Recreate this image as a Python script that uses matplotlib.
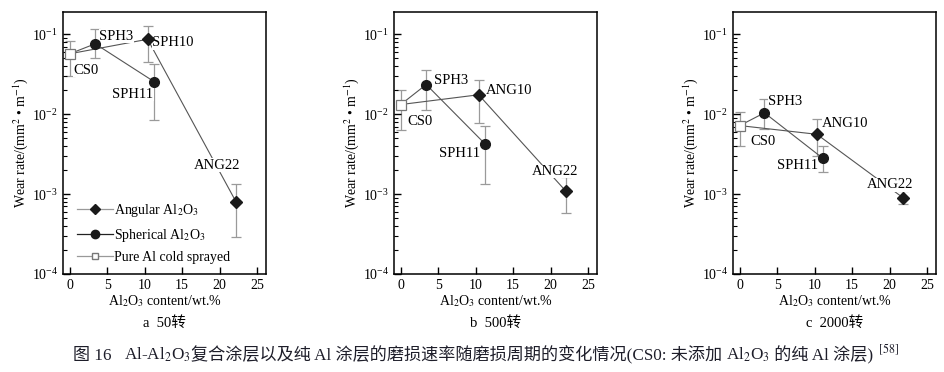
import matplotlib
matplotlib.use("Agg")
import matplotlib.pyplot as plt
from matplotlib.lines import Line2D
from matplotlib.ticker import LogLocator

plt.rcParams["font.family"] = ["Liberation Serif", "Noto Sans CJK SC"]
plt.rcParams["mathtext.fontset"] = "stix"
plt.rcParams["font.size"] = 9

# --------------------------------------------------------------------------- #
# Data (wear rate, mm^2/m)
# --------------------------------------------------------------------------- #
panels = ["a  50转", "b  500转", "c  2000转"]

cs0_y = [0.057, 0.0132, 0.0072]
cs0_lo = [0.030, 0.0063, 0.0040]
cs0_hi = [0.083, 0.0198, 0.0105]

sph_x = [[3.4, 11.3], [3.4, 11.3], [3.3, 11.1]]
sph_y = [[0.076, 0.0254], [0.0235, 0.0042], [0.0104, 0.0028]]
sph_lo = [[0.050, 0.0084], [0.0112, 0.00134], [0.0065, 0.00187]]
sph_hi = [[0.118, 0.042], [0.036, 0.0071], [0.0153, 0.0040]]

ang_x = [[10.4, 22.2], [10.4, 22.0], [10.3, 21.8]]
ang_y = [[0.0866, 0.0008], [0.0175, 0.0011], [0.0056, 0.0009]]
ang_lo = [[0.045, 0.00029], [0.0078, 0.00058], [0.0030, 0.00076]]
ang_hi = [[0.127, 0.00133], [0.027, 0.00162], [0.0088, 0.0011]]

sph_names = [["SPH3", "SPH11"], ["SPH3", "SPH11"], ["SPH3", "SPH11"]]
ang_names = [["SPH10", "ANG22"], ["ANG10", "ANG22"], ["ANG10", "ANG22"]]

# label anchors (x, y, ha) for CS0, sph pts, ang pts
label_pos = [
    [(0.5, 0.0355, "left"), (3.9, 0.095, "left"), (8.4, 0.0178, "center"),
     (11.0, 0.078, "left"), (19.6, 0.0023, "center")],
    [(0.9, 0.0080, "left"), (4.4, 0.0264, "left"), (7.8, 0.0032, "center"),
     (11.4, 0.0198, "left"), (20.6, 0.00192, "center")],
    [(1.4, 0.0045, "left"), (3.8, 0.0144, "left"), (7.7, 0.00226, "center"),
     (11.0, 0.0077, "left"), (20.0, 0.0013, "center")],
]

caption_parts = [
    "图 16   ",
    "Al-Al$_2$O$_3$",
    "复合涂层以及纯 Al 涂层的磨损速率随磨损周期的变化情况(CS0: 未添加 ",
    "Al$_2$O$_3$",
    " 的纯 Al 涂层)",
    " $^{[58]}$",
]

# --------------------------------------------------------------------------- #
# Figure
# --------------------------------------------------------------------------- #
fig = plt.figure(figsize=(9.44, 3.72), dpi=100)
lefts = [63, 394, 733]
line_c = "#555555"
err_c = "#9a9a9a"

for i, left in enumerate(lefts):
    ax = fig.add_axes([left / 944, 1 - 274 / 372, 203 / 944, 262 / 372])
    ax.set_yscale("log")
    ax.set_ylim(1e-4, 0.19)
    ax.set_xlim(-0.9, 26.2)
    ax.set_xticks([0, 5, 10, 15, 20, 25])
    ax.yaxis.set_major_locator(LogLocator(base=10, numticks=10))
    ax.yaxis.set_minor_locator(LogLocator(base=10, subs=range(2, 10), numticks=20))
    ax.tick_params(which="both", direction="in", top=False, right=False,
                   labelsize=10)
    ax.tick_params(which="major", length=5, width=1)
    ax.tick_params(which="minor", length=3, width=0.8)
    for s in ax.spines.values():
        s.set_linewidth(1.1)

    # connecting lines (both series start at CS0)
    ax.plot([0] + sph_x[i], [cs0_y[i]] + sph_y[i], color=line_c, lw=0.8, zorder=2)
    ax.plot([0] + ang_x[i], [cs0_y[i]] + ang_y[i], color=line_c, lw=0.8, zorder=2)

    # error bars
    def ebar(xs, ys, lo, hi):
        yerr = [[y - l for y, l in zip(ys, lo)], [h - y for y, h in zip(ys, hi)]]
        ax.errorbar(xs, ys, yerr=yerr, fmt="none", ecolor=err_c, elinewidth=0.9,
                    capsize=3.5, capthick=0.9, zorder=1)

    ebar([0], [cs0_y[i]], [cs0_lo[i]], [cs0_hi[i]])
    ebar(sph_x[i], sph_y[i], sph_lo[i], sph_hi[i])
    ebar(ang_x[i], ang_y[i], ang_lo[i], ang_hi[i])

    ax.plot(sph_x[i], sph_y[i], "o", color="#1a1a1a", ms=7, zorder=4)
    ax.plot(ang_x[i], ang_y[i], "D", color="#1a1a1a", ms=6, zorder=4)
    ax.plot([0], [cs0_y[i]], "s", mfc="white", mec="#777777", mew=0.9, ms=7,
            zorder=4)

    names = ["CS0"] + sph_names[i] + ang_names[i]
    for name, (lx, ly, ha) in zip(names, label_pos[i]):
        ax.text(lx, ly, name, ha=ha, va="center", fontsize=10.5, zorder=3,
                bbox=dict(facecolor="white", edgecolor="none", pad=0.3))

    ax.set_ylabel("Wear rate/(mm$^2$ • m$^{-1}$)", fontsize=10, labelpad=1)
    ax.set_xlabel("Al$_2$O$_3$ content/wt.%", fontsize=10, labelpad=1)

    cx = (left + 203 / 2) / 944
    fig.text(cx, 1 - 323 / 372, panels[i], ha="center", va="center", fontsize=10.5)

    if i == 0:
        handles = [
            Line2D([], [], color="#999999", lw=0.9, marker="D", ms=5,
                   mfc="#1a1a1a", mec="#1a1a1a"),
            Line2D([], [], color="#222222", lw=0.9, marker="o", ms=6,
                   mfc="#1a1a1a", mec="#1a1a1a"),
            Line2D([], [], color="#999999", lw=0.9, marker="s", ms=5,
                   mfc="white", mec="#777777"),
        ]
        ax.legend(handles,
                  ["Angular Al$_2$O$_3$", "Spherical Al$_2$O$_3$",
                   "Pure Al cold sprayed"],
                  loc="lower left", bbox_to_anchor=(0.02, 0.0), frameon=False,
                  handlelength=2.6, handletextpad=0.1, labelspacing=0.55,
                  fontsize=10, borderaxespad=0.3)

# caption: CJK text and mathtext pieces laid out side by side on one baseline
renderer = fig.canvas.get_renderer()
cap_y = 1 - 360 / 372
pieces = [fig.text(0, cap_y, p, ha="left", va="baseline", fontsize=12.3,
                   color="#1e1e2a") for p in caption_parts]
widths = [t.get_window_extent(renderer).width / 944 for t in pieces]
x = 486 / 944 - sum(widths) / 2
for t, w in zip(pieces, widths):
    t.set_x(x)
    x += w

fig.savefig("out.png", dpi=100)
